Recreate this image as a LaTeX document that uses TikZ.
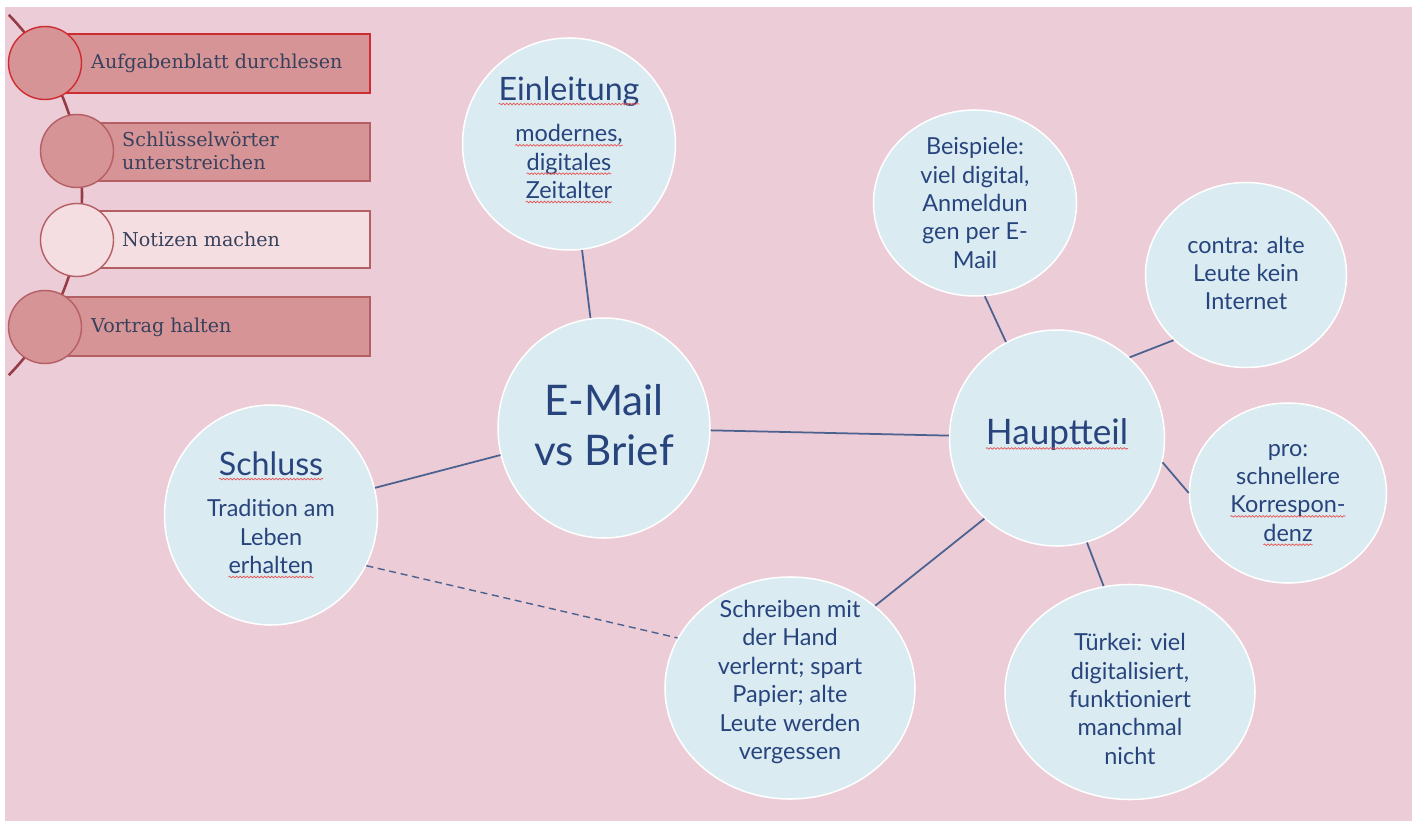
\documentclass[tikz,border=0pt]{standalone}
\usepackage{fontspec}
\usepackage{xcolor}
\usepackage{tikz}
\usetikzlibrary{shapes.geometric, decorations.pathmorphing}

\newfontfamily\handfont{Lato}
\newfontfamily\stepfont{DejaVu Serif}

\definecolor{bgpink}{RGB}{236,204,214}
\definecolor{bubblefill}{RGB}{218,235,242}
\definecolor{inkblue}{RGB}{40,68,125}
\definecolor{linkblue}{RGB}{75,98,145}
\definecolor{squigred}{RGB}{232,84,84}
\definecolor{stepred}{RGB}{205,45,50}
\definecolor{stepedge}{RGB}{180,95,100}
\definecolor{steprose}{RGB}{215,148,150}
\definecolor{steplight}{RGB}{244,222,225}
\definecolor{stepline}{RGB}{150,60,70}
\definecolor{stepgrey}{RGB}{55,65,92}

\newcommand\pxu{0.03cm}
\newcommand\titlesize{\fontsize{27.5}{31}\selectfont}
% red wavy underline
\newcommand\squig[1]{\tikz[baseline=(sq.base)]{%
    \node[inner sep=0pt, outer sep=0pt, anchor=base] (sq) at (0pt,0pt) {#1};
    \draw[squigred, line width=0.6pt, decorate, decoration={snake, amplitude=0.7pt, segment length=3pt}]
        ([yshift=-3pt]sq.base west) -- ([yshift=-3pt]sq.base east);}}

\begin{document}
\begin{tikzpicture}[x=0.03cm, y=-0.03cm,
    bubble/.style={ellipse, draw=white, line width=1.3pt, fill=bubblefill, inner sep=0pt},
    bubtext/.style={align=center, text=inkblue, inner sep=0pt, font=\handfont\fontsize{20}{24.2}\selectfont},
    link/.style={draw=linkblue, line width=1.5pt},
    stepbox/.style={rectangle, draw=stepedge, line width=1pt, fill=steprose, inner sep=0pt},
    stepdot/.style={circle, draw=stepedge, line width=1.2pt, fill=steprose, inner sep=0pt, minimum size={73*\pxu}},
    steptext/.style={anchor=west, inner sep=0pt, align=left, text=stepgrey, font=\stepfont\fontsize{16.3}{19.8}\selectfont}]
    \useasboundingbox (0,0) rectangle (1419,821);
    \fill[white] (0,0) rectangle (1419,821);
    \fill[bgpink] (5,7) rectangle (1412,821);

    % steps on the left
    \draw[stepline, line width=2.2pt, domain=-44.2:44.2, samples=60]
        plot ({-176.4+258.4*cos(\x)}, {195+258.4*sin(\x)});
    \node[stepbox, draw=stepred, minimum width={325*\pxu}, minimum height={59*\pxu}] (box1) at (207.5,63.5) {};
    \node[stepbox, minimum width={293*\pxu}, minimum height={58*\pxu}] (box2) at (223.5,152) {};
    \node[stepbox, fill=steplight, minimum width={293*\pxu}, minimum height={57*\pxu}] (box3) at (223.5,239.5) {};
    \node[stepbox, minimum width={325*\pxu}, minimum height={59*\pxu}] (box4) at (207.5,326.5) {};
    \node[stepdot, draw=stepred] (dot1) at (45,63) {};
    \node[stepdot] (dot2) at (77,151) {};
    \node[stepdot, fill=steplight] (dot3) at (77,240) {};
    \node[stepdot] (dot4) at (45,327) {};
    \node[steptext] (lab1) at (91,63) {Aufgabenblatt durchlesen};
    \node[steptext] (lab2) at (122,151) {Schlüsselwörter\\unterstreichen};
    \node[steptext] (lab3) at (122,239) {Notizen machen};
    \node[steptext] (lab4) at (91,327) {Vortrag halten};

    % mind map
    \node[bubble, minimum width={213*\pxu}, minimum height={212*\pxu}] (einl) at (569,144) {};
    \node[bubble, minimum width={212*\pxu}, minimum height={220*\pxu}] (email) at (604,428) {};
    \node[bubble, minimum width={215*\pxu}, minimum height={216*\pxu}] (haupt) at (1057,438) {};
    \node[bubble, minimum width={203*\pxu}, minimum height={186*\pxu}] (beisp) at (975,203) {};
    \node[bubble, minimum width={201*\pxu}, minimum height={185*\pxu}] (contra) at (1246,275) {};
    \node[bubble, minimum width={197*\pxu}, minimum height={180*\pxu}] (pro) at (1288,493) {};
    \node[bubble, minimum width={250*\pxu}, minimum height={215*\pxu}] (tuerkei) at (1130,692) {};
    \node[bubble, minimum width={250*\pxu}, minimum height={222*\pxu}] (schreib) at (790,688) {};
    \node[bubble, minimum width={213*\pxu}, minimum height={220*\pxu}] (schluss) at (271,515) {};

    \draw[link] (einl) -- (email);
    \draw[link] (email) -- (haupt);
    \draw[link] (email) -- (schluss);
    \draw[link] (beisp.-84) -- (haupt.118);
    \draw[link] (haupt.48) -- (contra.222);
    \draw[link] (haupt.-13) -- (pro.180);
    \draw[link] (haupt.-74) -- (tuerkei.104);
    \draw[link] (haupt.228) -- (schreib.44);
    \draw[link, dash pattern=on 6pt off 4pt, line width=1.2pt] (schluss.-28) -- (schreib.156);

    \node[bubtext] (einl-t) at (569,140) {\squig{\titlesize Einleitung}\\[11pt]\squig{modernes,}\\\squig{digitales}\\\squig{Zeitalter}};
    \node[bubtext, font=\handfont\fontsize{36}{43}\selectfont] (email-t) at (604,425) {E-Mail\\vs Brief};
    \node[bubtext, font=\handfont\fontsize{30}{34}\selectfont] (haupt-t) at (1057,435) {\squig{Hauptteil}};
    \node[bubtext] (beisp-t) at (975,203) {Beispiele:\\viel digital,\\Anmeldun\\gen per E-\\Mail};
    \node[bubtext] (contra-t) at (1246,273) {contra: alte\\Leute kein\\Internet};
    \node[bubtext] (pro-t) at (1288,495) {pro:\\schnellere\\\squig{Korrespon-}\\\squig{denz}};
    \node[bubtext] (tuerkei-t) at (1130,699) {Türkei: viel\\digitalisiert,\\funktioniert\\manchmal\\nicht};
    \node[bubtext] (schreib-t) at (790,682) {Schreiben mit\\der Hand\\verlernt; spart\\Papier; alte\\Leute werden\\vergessen};
    \node[bubtext] (schluss-t) at (271,515) {\squig{\titlesize Schluss}\\[11pt]Tradition am\\Leben\\\squig{erhalten}};
\end{tikzpicture}
\end{document}
